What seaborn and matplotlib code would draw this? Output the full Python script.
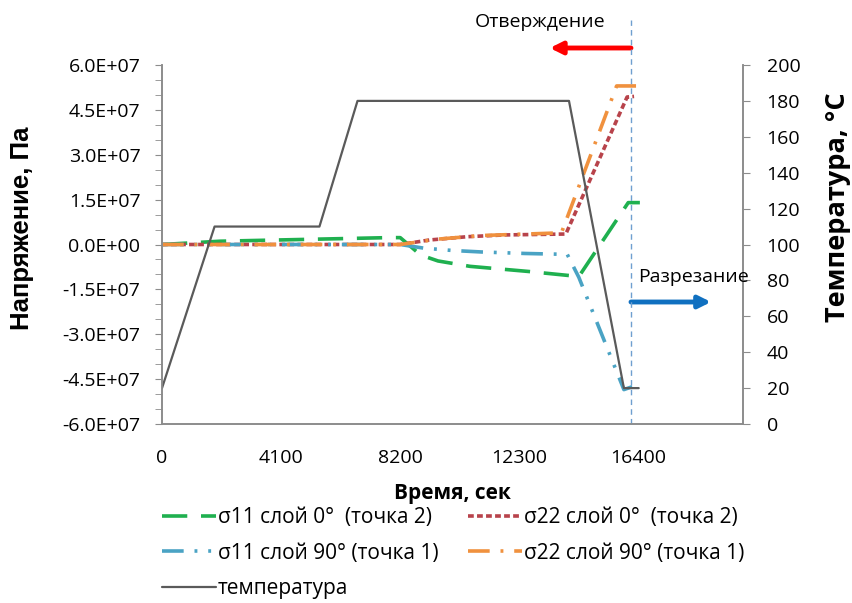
import numpy as np
import pandas as pd
import matplotlib
matplotlib.use("Agg")
import matplotlib.pyplot as plt
import seaborn as sns
from matplotlib.ticker import FuncFormatter, MultipleLocator

# ---- data ----
t_s11_0 = [0, 2000, 5400, 7800, 8200, 8900, 9500, 10600, 12600, 14350, 16050, 16450]
s11_0 = [0, 1.1e6, 1.8e6, 2.3e6, 2.3e6, -3.5e6, -5.5e6, -7.3e6, -9.0e6, -1.07e7, 1.4e7, 1.4e7]

t_s22_0 = [0, 8200, 9200, 10500, 11800, 13900, 16010, 16250]
s22_0 = [0, 0, 1.5e6, 2.6e6, 3.2e6, 3.5e6, 4.93e7, 4.95e7]

t_s11_90 = [0, 8200, 9000, 10000, 11000, 12500, 13950, 14350, 15900, 16350]
s11_90 = [0, 0, -1.2e6, -2.0e6, -2.5e6, -3.0e6, -3.3e6, -1.1e7, -4.85e7, -4.7e7]

t_s22_90 = [0, 8200, 9500, 11000, 13750, 15650, 16350]
s22_90 = [0, 0, 1.8e6, 3.0e6, 3.9e6, 5.3e7, 5.3e7]

t_temp = [0, 1810, 5420, 6730, 14010, 15900, 16410]
temp = [20, 110, 110, 180, 180, 20, 20]

labels = ["σ11 слой 0°  (точка 2)", "σ22 слой 0°  (точка 2)",
          "σ11 слой 90° (точка 1)", "σ22 слой 90° (точка 1)", "температура"]
x_ticks = [0, 4100, 8200, 12300, 16400]
cut_time = 16144

sns.set_style("white")
plt.rcParams["font.family"] = ["Open Sans", "DejaVu Sans"]
plt.rcParams["text.color"] = "black"
plt.rcParams["xtick.labelcolor"] = "black"
plt.rcParams["ytick.labelcolor"] = "black"

fig = plt.figure(figsize=(8.52, 6.03), dpi=100)
ax = fig.add_axes([162 / 852, 1 - 424 / 603, (743 - 162) / 852, (424 - 65) / 603])
ax2 = ax.twinx()

gray = "#8c8c8c"

def draw(axis, t, v, color, ls, lw):
    df = pd.DataFrame({"t": t, "v": v})
    sns.lineplot(data=df, x="t", y="v", ax=axis, color=color, linestyle=ls,
                 linewidth=lw, sort=False, estimator=None)
    return axis.lines[-1]

h_g = draw(ax, t_s11_0, s11_0, "#1fb04f", (0, (7, 3.8)), 2.6)
h_r = draw(ax, t_s22_0, s22_0, "#b8434b", (0, (1.6, 0.9)), 2.6)
h_b = draw(ax, t_s11_90, s11_90, "#4aa3c4", (0, (6, 3, 0.8, 3, 0.8, 3)), 2.6)
h_o = draw(ax, t_s22_90, s22_90, "#f0913e", (0, (6, 3, 0.8, 3)), 2.6)
h_t = draw(ax2, t_temp, temp, "#5a5a5a", "-", 1.6)

ax.set_xlim(0, 20000)
ax.set_ylim(-6e7, 6e7)
ax2.set_ylim(0, 200)

ax.set_xticks(x_ticks)
ax.xaxis.set_minor_locator(MultipleLocator(820))
ax.yaxis.set_major_locator(MultipleLocator(1.5e7))
ax.yaxis.set_minor_locator(MultipleLocator(5e6))
ax.yaxis.set_major_formatter(FuncFormatter(lambda v, p: f"{v:.1E}"))
ax2.yaxis.set_major_locator(MultipleLocator(20))

for a in (ax, ax2):
    for s in a.spines.values():
        s.set_color(gray)
        s.set_linewidth(1.2)
    a.spines["top"].set_visible(False)

ax.tick_params(axis="x", which="major", direction="inout", length=10, color=gray, labelsize=14, pad=13)
ax.tick_params(axis="x", which="minor", direction="in", length=5, color=gray)
ax.tick_params(axis="y", which="both", direction="out", length=5, color=gray, labelsize=14, left=True, pad=10.5)
ax2.tick_params(axis="y", which="major", direction="out", length=5, color=gray, labelsize=14, right=True, pad=12)

ax.set_xlabel("")
ax.set_ylabel("")
ax2.set_ylabel("")
fig.text(10 / 852, 1 - 228 / 603, "Напряжение, Па", rotation=90, ha="left", va="center",
         fontsize=18.5, fontweight="bold", family=["Liberation Sans", "DejaVu Sans"])
fig.text(851 / 852, 1 - 207 / 603, "Температура, °С", rotation=90, ha="right", va="center",
         fontsize=19.5, fontweight="bold", family=["Open Sans", "DejaVu Sans"])
fig.text(452 / 852, 1 - 493 / 603, "Время, сек", ha="center", va="center",
         fontsize=15, fontweight="bold")

# cutting line and annotations
ax.axvline(cut_time, ymin=0, ymax=(424 - 20) / (424 - 65), color="#6f9fd0", lw=1.0,
           linestyle=(0, (4, 3)), clip_on=False, zorder=5)
ax.annotate("", xy=(13350, (424 - 48) / 359), xytext=(cut_time, (424 - 48) / 359),
            xycoords=("data", "axes fraction"), textcoords=("data", "axes fraction"),
            arrowprops=dict(arrowstyle="-|>", color="#ff0000", lw=3.5, mutation_scale=18,
                            shrinkA=0, shrinkB=0), annotation_clip=False)
ax.annotate("", xy=(18900, (424 - 302) / 359), xytext=(cut_time, (424 - 302) / 359),
            xycoords=("data", "axes fraction"), textcoords=("data", "axes fraction"),
            arrowprops=dict(arrowstyle="-|>", color="#1070c0", lw=3.5, mutation_scale=18,
                            shrinkA=0, shrinkB=0), annotation_clip=False)
fig.text(605 / 852, 1 - 22 / 603, "Отверждение", ha="right", va="center", fontsize=14)
fig.text(638 / 852, 1 - 277 / 603, "Разрезание", ha="left", va="center", fontsize=14)

handles = [h_g, h_b, h_t, h_r, h_o]
leg_labels = [labels[0], labels[2], labels[4], labels[1], labels[3]]
fig.legend(handles, leg_labels, ncol=2, loc="upper center",
           bbox_to_anchor=(453 / 852, 1 - 507 / 603), frameon=False, fontsize=15,
           handlelength=2.6, handletextpad=0.1, columnspacing=1.4, labelspacing=0.7,
           borderaxespad=0, borderpad=0)

fig.savefig("out.png", dpi=100)
